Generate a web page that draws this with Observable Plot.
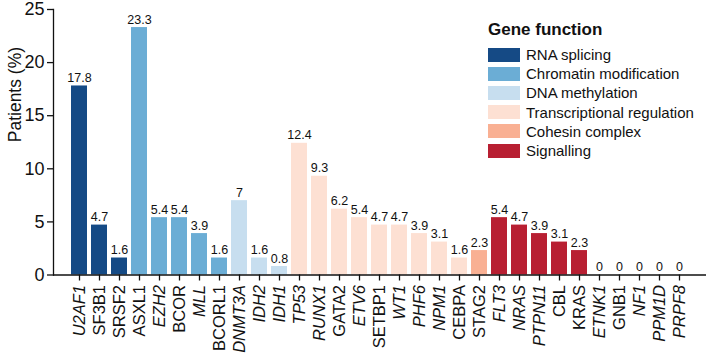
<!DOCTYPE html>
<html>
<head>
<meta charset="utf-8">
<script src="https://cdn.jsdelivr.net/npm/d3@7"></script>
<script src="https://cdn.jsdelivr.net/npm/@observablehq/plot@0.6"></script>
<style>
  body { margin: 0; background: #fff; font-family: "Liberation Sans", Arial, sans-serif; }
  #chart { position: relative; width: 709px; height: 358px; }
  #legend { position: absolute; left: 488px; top: 20px; color: #111; }
  #legend .title { font-weight: bold; font-size: 17px; margin-bottom: 5px; }
  #legend .row { display: flex; align-items: center; height: 19.2px; font-size: 15px; }
  #legend .sw { width: 32px; height: 14px; margin-right: 6px; }
</style>
</head>
<body>
<div id="chart"></div>
<script>
const genes = ["U2AF1","SF3B1","SRSF2","ASXL1","EZH2","BCOR","MLL","BCORL1","DNMT3A","IDH2","IDH1","TP53","RUNX1","GATA2","ETV6","SETBP1","WT1","PHF6","NPM1","CEBPA","STAG2","FLT3","NRAS","PTPN11","CBL","KRAS","ETNK1","GNB1","NF1","PPM1D","PRPF8"];
const values = [17.8,4.7,1.6,23.3,5.4,5.4,3.9,1.6,7,1.6,0.8,12.4,9.3,6.2,5.4,4.7,4.7,3.9,3.1,1.6,2.3,5.4,4.7,3.9,3.1,2.3,0,0,0,0,0];
const functions = ["RNA splicing","RNA splicing","RNA splicing","Chromatin modification","Chromatin modification","Chromatin modification","Chromatin modification","Chromatin modification","DNA methylation","DNA methylation","DNA methylation","Transcriptional regulation","Transcriptional regulation","Transcriptional regulation","Transcriptional regulation","Transcriptional regulation","Transcriptional regulation","Transcriptional regulation","Transcriptional regulation","Transcriptional regulation","Cohesin complex","Signalling","Signalling","Signalling","Signalling","Signalling","Signalling","Signalling","Signalling","Signalling","Signalling"];
const functionNames = ["RNA splicing","Chromatin modification","DNA methylation","Transcriptional regulation","Cohesin complex","Signalling"];
const functionColors = ["#154a85","#6badd5","#c7deef","#fde0d3","#f9b093","#b81f32"];
const uprightLabels = ["SF3B1","SRSF2","ASXL1","BCOR","BCORL1","GATA2","SETBP1","CEBPA","STAG2","CBL","KRAS","GNB1"];
const yTicks = [0,5,10,15,20,25];

const data = genes.map((g, i) => ({gene: g, value: values[i], func: functions[i]}));

const plot = Plot.plot({
  width: 709,
  height: 358,
  marginLeft: 53,
  marginRight: 3,
  marginTop: 9,
  marginBottom: 83.5,
  style: {fontFamily: "Liberation Sans, Arial, sans-serif", color: "#111", background: "#fff"},
  x: {domain: genes, padding: 0.18, label: null},
  y: {domain: [0, 25], ticks: yTicks, label: null},
  color: {domain: functionNames, range: functionColors},
  marks: [
    Plot.barY(data, {x: "gene", y: "value", fill: "func"}),
    Plot.text(data, {x: "gene", y: "value", text: d => String(d.value), dy: -8, fontSize: 12.5, fill: "#111"}),
    Plot.ruleY([0], {stroke: "#111", strokeWidth: 1.3}),
    Plot.frame({anchor: "left", stroke: "#111", strokeWidth: 1.3}),
    Plot.axisY({ticks: yTicks, tickSize: 6, tickPadding: 3, fontSize: 18, stroke: "#111", strokeWidth: 1.3}),
    Plot.axisX({tickSize: 6, tickPadding: 4, tickRotate: -90, fontSize: 16.5, stroke: "#111", strokeWidth: 1.3}),
    Plot.text(["Patients (%)"], {frameAnchor: "left", dx: -38, rotate: -90, fontSize: 17.5, fill: "#111"})
  ]
});

d3.select(plot).selectAll('g[aria-label="x-axis tick label"] text')
  .style("font-style", function() { return uprightLabels.includes(this.textContent) ? "normal" : "italic"; });

const chart = document.getElementById("chart");
chart.appendChild(plot);

const legend = document.createElement("div");
legend.id = "legend";
legend.innerHTML = `<div class="title">Gene function</div>` +
  functionNames.map((n, i) => `<div class="row"><div class="sw" style="background:${functionColors[i]}"></div><span>${n}</span></div>`).join("");
chart.appendChild(legend);
</script>
</body>
</html>
